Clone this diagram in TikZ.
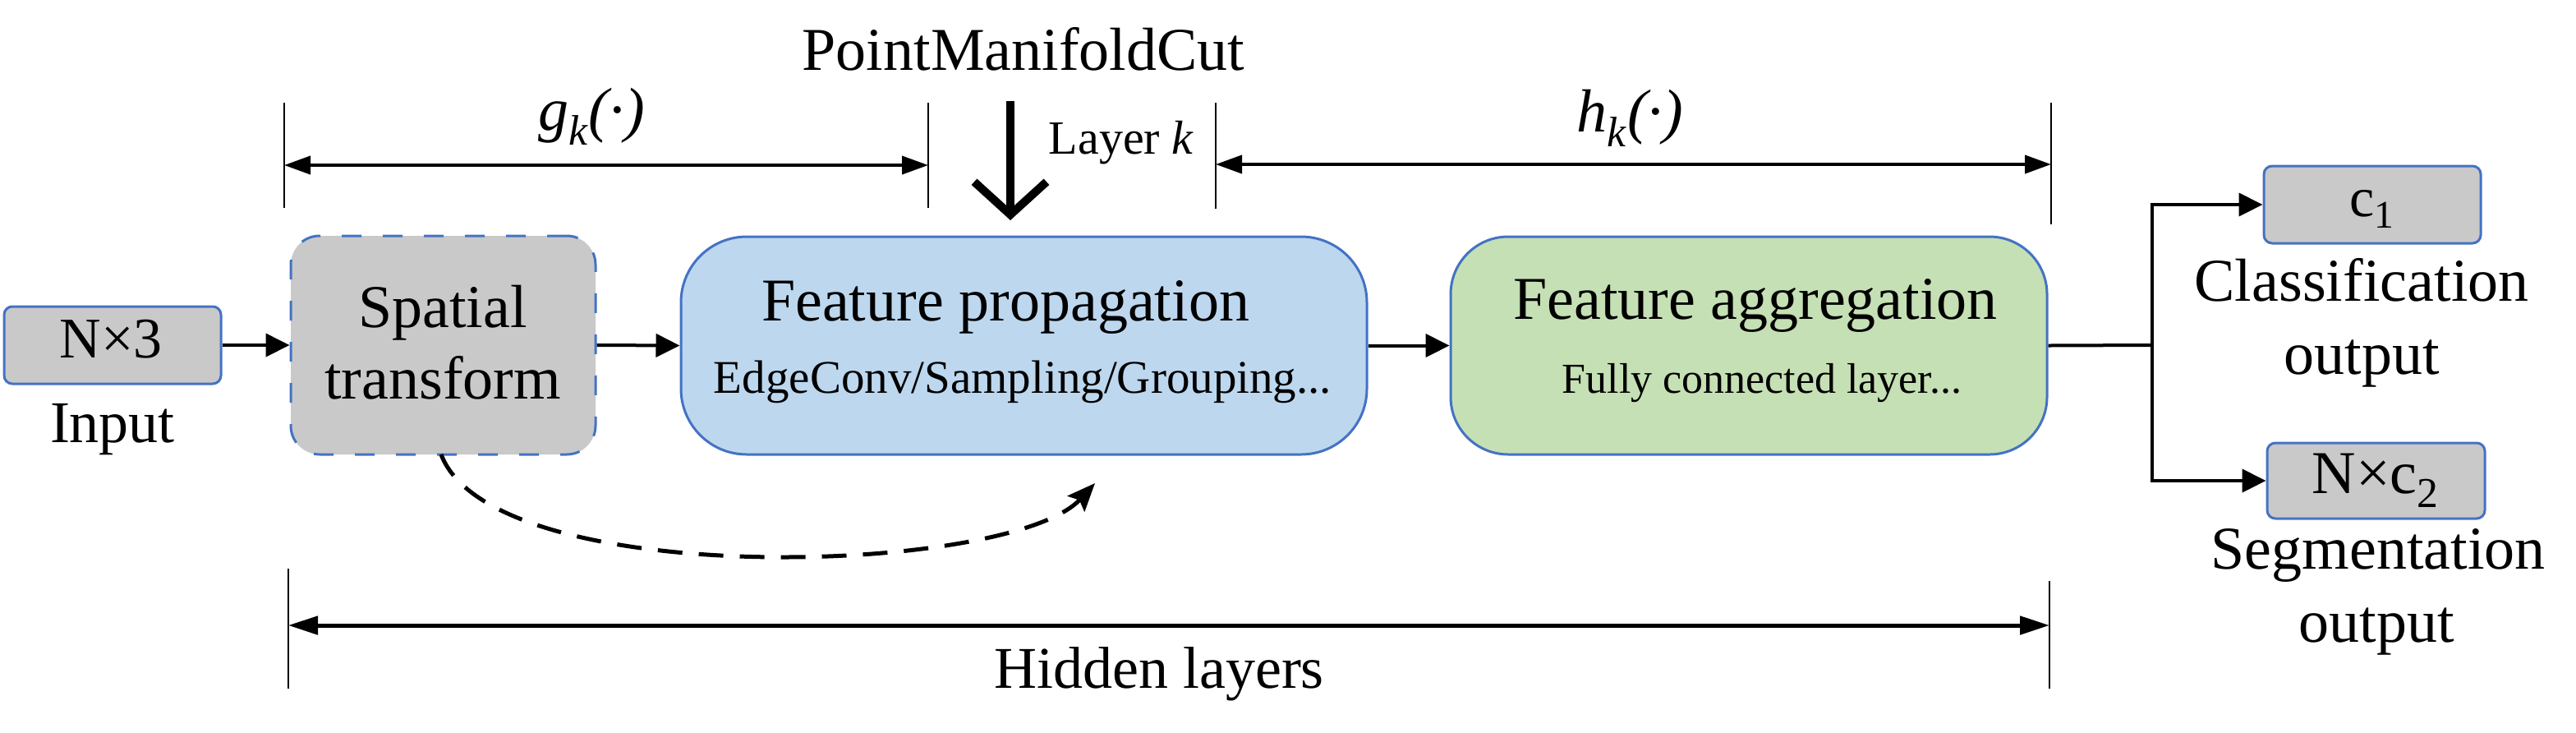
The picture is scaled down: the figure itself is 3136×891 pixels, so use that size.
\documentclass[tikz,border=0pt]{standalone}
\usepackage{fontspec}
\setmainfont{Liberation Serif}
\usetikzlibrary{arrows.meta}
\definecolor{bord}{HTML}{4472C4}
\definecolor{grayf}{HTML}{C9C9C9}
\definecolor{bluef}{HTML}{BDD7EE}
\definecolor{greenf}{HTML}{C5E0B4}
\newcommand\myfs[1]{\fontsize{#1}{#1}\selectfont}
\begin{document}
\begin{tikzpicture}[x=0.5pt,y=-0.5pt,
  box/.style={draw=bord, line width=1.5pt, inner sep=0pt},
  txt/.style={inner sep=0pt, anchor=base},
  flow/.style={line width=2pt, -{Triangle[length=14.5pt,width=14pt]}},
  dim/.style={line width=2pt, {Triangle[length=16pt,width=11pt]}-{Triangle[length=16pt,width=11pt]}},
  tick/.style={line width=1.3pt},
]
\useasboundingbox (0,0) rectangle (3136,891);

% boxes
\node[box, fill=grayf, rounded corners=5pt, minimum width=132pt, minimum height=47pt] (in) at (137,420) {};
\node[box, fill=grayf, rounded corners=17.5pt, dash pattern=on 12pt off 13pt, minimum width=185.5pt, minimum height=133pt] (sp) at (539.5,420) {};
\node[box, fill=bluef, rounded corners=40pt, minimum width=417.5pt, minimum height=132.5pt] (fp) at (1246.5,420.5) {};
\node[box, fill=greenf, rounded corners=35pt, minimum width=363pt, minimum height=132.5pt] (fa) at (2129,420.5) {};
\node[box, fill=grayf, rounded corners=5pt, minimum width=132pt, minimum height=47pt] (c1) at (2888,249) {};
\node[box, fill=grayf, rounded corners=5pt, minimum width=132.5pt, minimum height=46pt] (nc) at (2892.5,585) {};

% texts
\node[txt] (tin) at (135,435) {\myfs{35pt}N×3};
\node[txt] (tinput) at (137,538) {\myfs{36pt}Input};
\node[txt] (tsp1) at (539,398) {\myfs{37pt}Spatial};
\node[txt] (tsp2) at (539,485) {\myfs{37pt}transform};
\node[txt] (tfp1) at (1224,390) {\myfs{37pt}Feature propagation};
\node[txt] (tfp2) at (1245,478) {\myfs{28.5pt}EdgeConv/Sampling/Grouping...};
\node[txt] (tfa1) at (2137,388) {\myfs{37pt}Feature aggregation};
\node[txt] (tfa2) at (2145,478) {\myfs{26pt}Fully connected layer...};
\node[txt] (tpmc) at (1246,85) {\myfs{37pt}PointManifoldCut};
\node[txt] (tlay) at (1365,187) {\myfs{29pt}Layer \textit{k}};
\node[txt] (tg) at (720,158) {\myfs{37pt}\textit{g}\textsubscript{\textit{k}}\textit{(·)}};
\node[txt] (th) at (1984,160) {\myfs{37pt}\textit{h}\textsubscript{\textit{k}}\textit{(·)}};
\node[txt] (tc1) at (2888,263) {\myfs{34pt}c\textsubscript{1}};
\node[txt] (tnc) at (2892,600) {\myfs{37pt}N×c\textsubscript{2}};
\node[txt] (tcl1) at (2875,366) {\myfs{37pt}Classification};
\node[txt] (tcl2) at (2875,455) {\myfs{37pt}output};
\node[txt] (tsg1) at (2895,692) {\myfs{37pt}Segmentation};
\node[txt] (tsg2) at (2893,781) {\myfs{37pt}output};
\node[txt] (thid) at (1411,837) {\myfs{36pt}Hidden layers};

% flow connectors
\draw[flow] (in.east) -- (sp.west);
\draw[flow] (sp.east) -- (fp.west);
\draw[flow] (fp.east) -- (fa.west);
\coordinate (br) at (2620,420);
\draw[line width=2pt] (fa.east) -- (br);
\draw[flow] (br) |- (c1.west);
\draw[flow] (br) |- (nc.west);

% dashed curve
\coordinate (ds) at (537,553);
\coordinate (de) at (1333,588);
\draw[line width=2.5pt, dash pattern=on 15pt off 10pt, -{Stealth[length=17pt,width=14pt,inset=3pt]}]
  (ds) .. controls (600,720) and (1230,700) .. (de);

% top dimension lines
\coordinate (gt1) at (346,125); \coordinate (gb1) at (346,253);
\coordinate (gt2) at (1130,125); \coordinate (gb2) at (1130,253);
\coordinate (ht1) at (1480,125); \coordinate (hb1) at (1480,254);
\coordinate (ht2) at (2497,125); \coordinate (hb2) at (2497,273);
\draw[tick] (gt1) -- (gb1);
\draw[tick] (gt2) -- (gb2);
\draw[tick] (ht1) -- (hb1);
\draw[tick] (ht2) -- (hb2);
\coordinate (gl) at (346,201); \coordinate (gr) at (1130,201);
\coordinate (hl) at (1480,200); \coordinate (hr) at (2497,200);
\draw[dim] (gl) -- (gr);
\draw[dim] (hl) -- (hr);

% PointManifoldCut arrow
\coordinate (cuts) at (1230,123);
\coordinate (cute) at (1230,268);
\draw[line width=5pt, -{Straight Barb[length=20pt,width=44pt]}] (cuts) -- (cute);

% bottom hidden layers
\coordinate (bt1) at (351,692); \coordinate (bb1) at (351,838);
\coordinate (bt2) at (2495,707); \coordinate (bb2) at (2495,838);
\draw[tick] (bt1) -- (bb1);
\draw[tick] (bt2) -- (bb2);
\coordinate (bl) at (351,761); \coordinate (brr) at (2495,761);
\draw[line width=2.5pt, {Triangle[length=18pt,width=11pt]}-{Triangle[length=18pt,width=11pt]}] (bl) -- (brr);
\end{tikzpicture}
\end{document}
